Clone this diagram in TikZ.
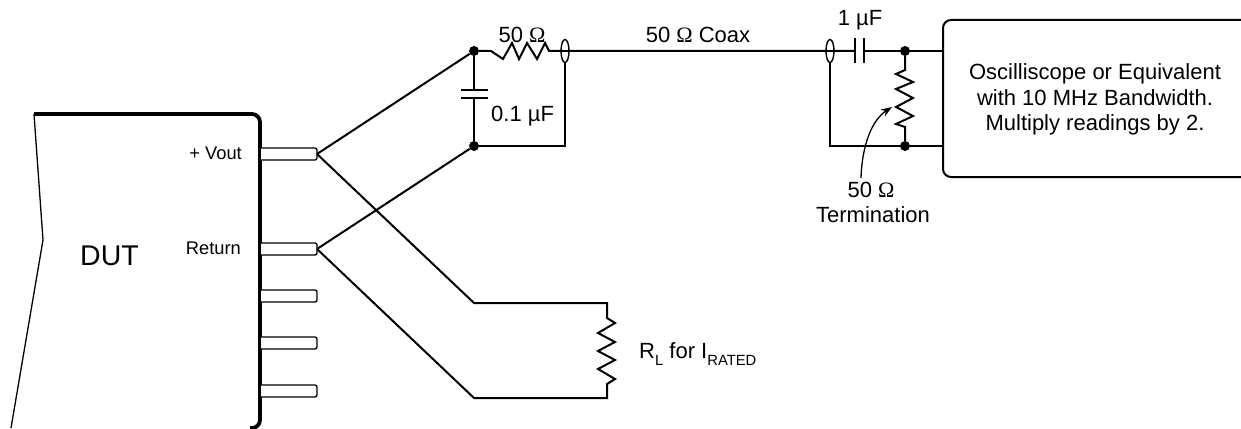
\documentclass[tikz,border=0pt]{standalone}
\usepackage{fontspec}
\setmainfont{Liberation Sans}
\newfontfamily\omegafont{Liberation Serif}
\usetikzlibrary{arrows.meta,shapes.geometric}
\newcommand{\Om}{{\omegafont Ω}}
\newcommand{\subtxt}[1]{\raisebox{-7pt}{\fontsize{14.8}{16}\selectfont #1}}
\tikzset{
  x=1pt,y=-1pt,
  wire/.style={line width=2pt,line join=miter},
  dut/.style={line width=3.8pt,rounded corners=8pt},
  pin/.style={line width=1.3pt,rounded corners=2pt},
  dotn/.style={circle,fill=black,inner sep=0pt,minimum size=10pt},
  lbl/.style={inner sep=0pt,font=\fontsize{22}{26}\selectfont},
  slbl/.style={inner sep=0pt,font=\fontsize{18.3}{22}\selectfont},
  coaxe/.style={ellipse,draw,fill=white,line width=1.4pt,minimum width=8pt,minimum height=23pt,inner sep=0pt},
}
\begin{document}
\begin{tikzpicture}
\useasboundingbox (0,0) rectangle (1241,428);
% named points
\coordinate (dtl) at (34,114);
\coordinate (dml) at (43,240);
\coordinate (dbl) at (11,428);
\coordinate (p1) at (317,154);
\coordinate (p2) at (317,249);
\node[dotn] (n1) at (474,51) {};
\node[dotn] (n2) at (474,146) {};
\node[dotn] (n3) at (905,51) {};
\node[dotn] (n4) at (905,146) {};
\coordinate (rl1) at (474,303);
\coordinate (rl2) at (607,303);
\coordinate (rl3) at (474,398);
\coordinate (rl4) at (607,398);
\coordinate (bxa) at (942,51);
\coordinate (bxb) at (942,146);
% DUT
\draw[line width=1.3pt] (dtl) -- (dml) -- (dbl);
\draw[dut] (dtl) -- (260,114) -- (260,428) -- (250,428);
% pins
\foreach \yy in {154,249,296,343,391}{
  \draw[pin,fill=white] (261,\yy-6) -- (317,\yy-6) -- (317,\yy+6) -- (261,\yy+6);
}
% wires
\draw[wire] (p1) -- (n1);
\draw[wire] (p2) -- (n2);
\draw[wire] (p1) -- (rl1) -- (rl2) -- (607,318) -- (615,323) -- (598,333) -- (615,342) -- (598,351) -- (615,360) -- (598,369) -- (615,379) -- (607,384) -- (rl4) -- (rl3) -- (p2);
% input RC
\draw[wire] (n1) -- (474,90) (474,98) -- (n2);
\draw[wire] (461,90) -- (488,90) (461,98) -- (488,98);
\draw[wire] (n1) -- (491,51) -- (503,59) -- (512,43) -- (519,59) -- (527,43) -- (537,59) -- (545,43) -- (549,51) -- (855,51);
\draw[wire] (n2) -- (565,146) -- (565,51);
\node[coaxe] (c1) at (565,51) {};
\draw[wire] (c1.west) -- (c1.east);
% output
\draw[wire] (864,51) -- (bxa);
\draw[wire] (855,38) -- (855,63) (864,38) -- (864,63);
\draw[wire] (830,51) -- (830,146) -- (bxb);
\node[coaxe] (c2) at (830,51) {};
\draw[wire] (c2.west) -- (c2.east);
\draw[wire] (n3) -- (905,70) -- (896,74) -- (913,82) -- (896,89) -- (913,98) -- (896,107) -- (913,116) -- (896,124) -- (905,127) -- (n4);
\draw[line width=1.3pt,-{Stealth[length=11pt,width=8pt]}] (861,178) .. controls (862,145) and (872,120) .. (892,107);
% scope box
\draw[wire,rounded corners=8pt] (1241,20) -- (943,20) -- (943,177) -- (1241,177);
% labels
\node[lbl,anchor=base] (t1) at (522,42) {50 \Om};
\node[lbl,anchor=base west] (t2) at (491,121) {0.1 µF};
\node[lbl,anchor=base] (t3) at (698,43) {50 \Om{} Coax};
\node[lbl,anchor=base] (t4) at (860,26) {1 µF};
\node[lbl,anchor=base] (t5) at (1095,79) {Oscilliscope or Equivalent};
\node[lbl,anchor=base] (t6) at (1095,105) {with 10 MHz Bandwidth.};
\node[lbl,anchor=base] (t7) at (1095,130) {Multiply readings by 2.};
\node[lbl,anchor=base] (t8) at (871,197) {50 \Om};
\node[lbl,anchor=base] (t9) at (873,222) {Termination};
\node[inner sep=0pt,anchor=base west,font=\fontsize{28.5}{30}\selectfont] (t10) at (80,265) {DUT};
\node[slbl,anchor=base east] (t11) at (242,159) {+ Vout};
\node[slbl,anchor=base east] (t12) at (241,254) {Return};
\node[lbl,anchor=base west] (t13) at (639,358) {R\subtxt{L} for I\subtxt{RATED}};
\end{tikzpicture}
\end{document}
